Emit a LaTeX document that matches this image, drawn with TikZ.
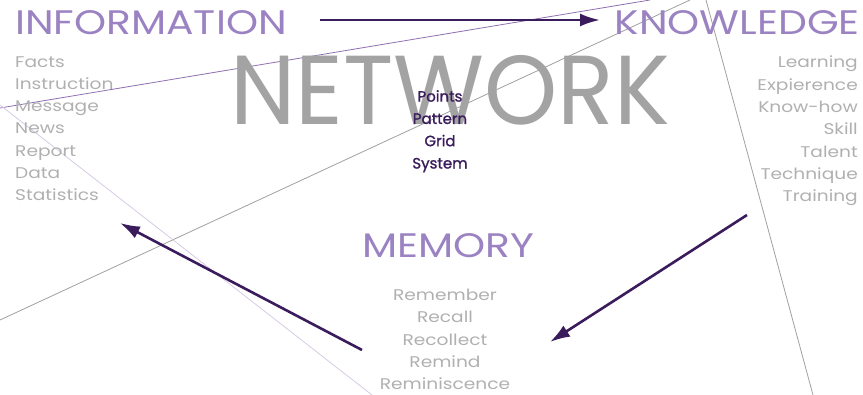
\documentclass[tikz,border=0pt]{standalone}
\usepackage{fontspec}
\setmainfont[FakeStretch=1.2]{Poppins}
\newfontfamily\netfont[FakeStretch=0.95]{Poppins}
\newfontfamily\pointfont[FakeBold=1.2]{Poppins}
\usepackage{tikz}
\usetikzlibrary{arrows.meta, positioning}
\definecolor{titlepurple}{HTML}{9B82C2}
\definecolor{deeppurple}{HTML}{3A1B5C}
\definecolor{netgray}{HTML}{A3A3A3}
\definecolor{listgray}{HTML}{B0B0B0}
\definecolor{linepurple}{HTML}{8E70B0}
\definecolor{faintpurple}{HTML}{D6CAE4}
\definecolor{linegray}{HTML}{A0A0A0}

\begin{document}
\begin{tikzpicture}[x=1pt, y=-1pt, >={Latex[length=20pt, width=13pt]}]
    \tikzstyle{heading} = [inner sep=0pt, text=titlepurple, font=\fontsize{34}{34}\selectfont]
    \tikzstyle{wordlist} = [inner sep=0pt, text=listgray, font=\fontsize{15.5}{22.3}\selectfont]
    \tikzstyle{thinline} = [line width=0.8pt]
    \tikzstyle{flow} = [draw, ->, line width=2.6pt, color=deeppurple]

    \useasboundingbox (0,0) rectangle (863,395);

    % background lines
    \draw [thinline, linepurple] (0,108) -- (650,0);
    \draw [thinline, linegray] (0,320) -- (690,0);
    \draw [thinline, faintpurple] (0,105) -- (372,395);
    \draw [thinline, linegray] (706,0) -- (813,395);

    % centre word
    \node [inner sep=0pt, anchor=base, text=netgray, font=\netfont\fontsize{98}{98}\selectfont] (network) at (450,125) {NETWORK};
    \node [wordlist, anchor=north, align=center, text=deeppurple, font=\pointfont\fontsize{15}{22.3}\selectfont] (netlist) at (440,90) {Points\\Pattern\\Grid\\System};

    % headings
    \node [heading, anchor=base west] (info) at (15,35) {INFORMATION};
    \node [heading, anchor=base east] (know) at (860,35) {KNOWLEDGE};
    \node [heading, anchor=base] (memory) at (448,258) {MEMORY};

    % word lists
    \node [wordlist, anchor=north west, align=left] (infolist) at (15,56) {Facts\\Instruction\\Message\\News\\Report\\Data\\Statistics};
    \node [wordlist, anchor=north east, align=right] (knowlist) at (858,56) {Learning\\Expierence\\Know-how\\Skill\\Talent\\Technique\\Training};
    \node [wordlist, anchor=north, align=center] (memlist) at (445,289) {Remember\\Recall\\Recollect\\Remind\\Reminiscence};

    % cycle arrows
    \coordinate (infoout) at (320,20);
    \coordinate (knowin) at (600,20);
    \coordinate (knowout) at (747,215);
    \coordinate (memin) at (550,342);
    \coordinate (memout) at (362,350);
    \coordinate (infoin) at (120,223);
    \path [flow] (infoout) -- (knowin);
    \path [flow] (knowout) -- (memin);
    \path [flow] (memout) -- (infoin);
\end{tikzpicture}
\end{document}
